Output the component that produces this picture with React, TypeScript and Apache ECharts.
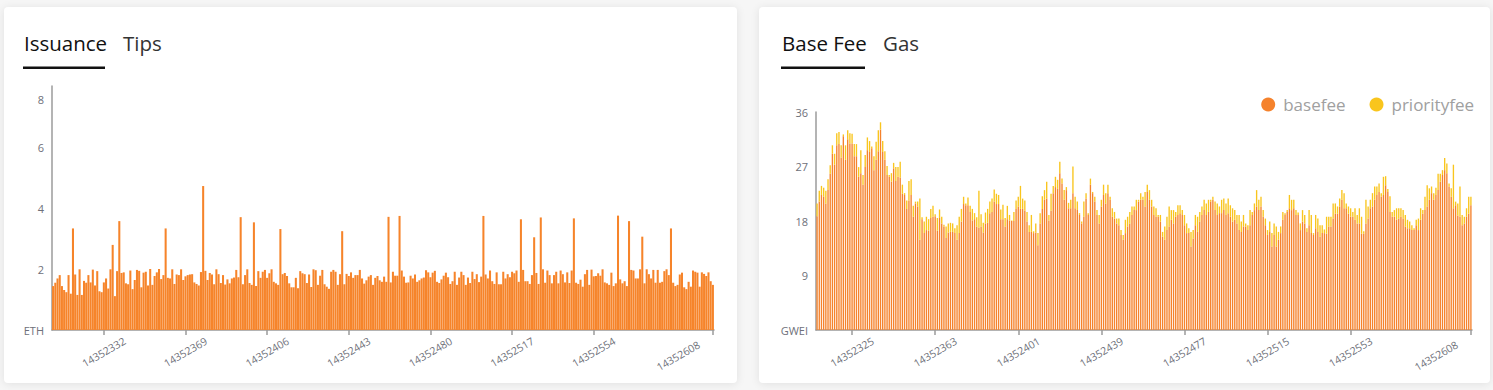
import React, { useEffect, useRef } from "react";
import * as echarts from "echarts";

const FONT = "'Open Sans', 'Noto Sans', sans-serif";

const START_BLOCK = 14352309;
const BLOCK_COUNT = 300;
const blocks: string[] = Array.from({ length: BLOCK_COUNT }, (_, i) => String(START_BLOCK + i));

const leftTabs = ["Issuance", "Tips"];
const rightTabs = ["Base Fee", "Gas"];
const seriesNames = ["basefee", "priorityfee"];

// ETH issued per block
const issuance: number[] = [
  1.44, 1.55, 1.69, 1.80, 1.44, 1.31, 1.24, 1.80, 1.19, 3.33,
  1.82, 1.15, 1.99, 1.15, 1.61, 1.55, 1.80, 1.56, 1.98, 1.46,
  1.93, 1.27, 1.24, 1.56, 1.69, 1.36, 1.99, 2.79, 1.11, 1.93,
  3.57, 1.87, 1.89, 1.53, 1.50, 1.95, 1.34, 1.64, 1.97, 1.94,
  1.40, 1.88, 1.91, 1.46, 2.00, 1.48, 1.77, 1.89, 2.00, 1.67,
  1.80, 3.33, 1.71, 1.69, 1.99, 1.51, 1.82, 1.80, 1.99, 1.64,
  1.76, 1.80, 1.82, 1.83, 1.56, 1.51, 1.46, 1.90, 4.72, 1.94,
  1.64, 1.87, 1.82, 1.50, 1.99, 1.83, 1.54, 1.80, 1.49, 1.66,
  1.53, 1.69, 1.72, 1.97, 1.73, 3.70, 1.50, 1.80, 1.99, 1.54,
  1.48, 3.53, 1.44, 1.93, 1.71, 1.91, 1.97, 1.71, 1.86, 1.99,
  1.58, 1.53, 1.48, 3.31, 1.83, 1.87, 1.77, 1.53, 1.40, 1.40,
  1.71, 1.37, 1.93, 1.86, 1.83, 1.54, 1.82, 1.41, 1.99, 1.96,
  1.48, 1.78, 1.97, 1.50, 1.42, 1.35, 1.91, 1.97, 1.91, 1.48,
  1.83, 3.24, 1.50, 1.84, 1.77, 1.89, 1.71, 1.80, 1.80, 1.97,
  1.69, 1.52, 1.63, 1.75, 1.80, 1.48, 1.71, 1.77, 1.63, 1.58,
  1.75, 1.58, 3.71, 1.56, 1.91, 1.78, 1.78, 3.74, 1.95, 1.75,
  1.55, 1.56, 1.78, 1.69, 1.82, 1.58, 1.63, 1.69, 1.72, 1.96,
  1.89, 1.73, 1.88, 1.94, 1.58, 1.54, 1.66, 1.78, 1.88, 1.73,
  1.51, 1.60, 1.91, 1.48, 1.72, 1.91, 1.80, 1.48, 1.72, 1.54,
  1.91, 1.67, 1.83, 1.57, 1.75, 3.74, 1.82, 1.69, 1.95, 1.60,
  1.51, 1.89, 1.50, 1.50, 1.91, 1.69, 1.83, 1.73, 1.91, 1.86,
  1.95, 1.58, 3.63, 1.97, 1.60, 1.60, 1.51, 1.80, 3.04, 1.87,
  1.51, 3.69, 1.99, 1.55, 1.95, 1.80, 1.53, 1.80, 1.91, 1.53,
  1.95, 1.83, 1.56, 1.89, 1.54, 1.95, 3.66, 1.55, 1.51, 1.65,
  1.42, 1.83, 1.97, 1.48, 1.98, 1.76, 1.77, 1.86, 1.78, 1.99,
  1.56, 1.53, 1.48, 1.88, 1.44, 1.53, 3.75, 1.66, 1.53, 1.60,
  1.44, 3.57, 1.97, 1.95, 1.69, 1.69, 1.99, 3.06, 1.53, 1.99,
  1.83, 1.69, 1.97, 1.55, 1.97, 1.55, 1.58, 1.93, 1.99, 1.80,
  3.33, 1.55, 1.44, 1.48, 1.82, 1.88, 1.40, 1.34, 1.58, 1.42,
  1.95, 1.91, 1.88, 1.42, 1.89, 1.84, 1.77, 1.89, 1.60, 1.48,
];

// GWEI
const basefee: number[] = [
  18.8, 21.2, 22.3, 22.0, 20.9, 23.1, 25.8, 29.1, 27.3, 30.5,
  30.7, 28.5, 32.0, 28.1, 31.5, 30.8, 30.8, 28.7, 28.7, 25.3,
  25.9, 24.0, 26.9, 29.7, 29.4, 30.0, 26.4, 28.1, 29.5, 33.1,
  29.4, 28.1, 25.6, 25.3, 24.5, 26.7, 24.6, 25.3, 25.2, 22.5,
  22.3, 20.0, 21.4, 22.3, 18.7, 20.9, 20.4, 14.9, 18.3, 16.0,
  16.5, 16.4, 18.5, 18.7, 18.8, 16.4, 18.5, 17.6, 17.1, 15.2,
  16.1, 16.2, 16.2, 16.0, 14.9, 16.0, 17.9, 20.8, 20.6, 20.6,
  19.5, 18.1, 18.3, 17.1, 16.9, 17.1, 16.1, 17.6, 17.7, 19.3,
  19.5, 21.2, 20.8, 20.8, 18.3, 18.3, 17.1, 18.3, 18.1, 18.0,
  18.0, 20.0, 20.4, 20.0, 20.0, 19.7, 17.9, 16.2, 16.2, 16.0,
  16.1, 14.0, 17.6, 20.0, 21.5, 21.7, 18.1, 19.7, 22.6, 23.6,
  23.3, 25.9, 24.2, 21.5, 23.1, 20.1, 20.1, 22.6, 20.1, 19.8,
  19.0, 17.6, 18.7, 21.7, 19.0, 24.0, 22.6, 21.2, 19.0, 17.6,
  20.4, 22.3, 20.9, 22.6, 21.5, 18.7, 18.4, 17.6, 17.3, 15.7,
  14.9, 16.0, 17.1, 17.6, 19.0, 19.8, 19.8, 21.2, 21.5, 21.5,
  20.4, 22.8, 21.5, 20.4, 19.0, 18.7, 18.7, 17.9, 15.4, 14.9,
  16.5, 17.1, 18.2, 17.6, 18.7, 19.0, 19.3, 19.0, 17.3, 16.0,
  16.0, 13.8, 15.1, 17.3, 16.2, 17.9, 19.0, 19.8, 19.0, 19.5,
  21.2, 21.5, 19.8, 19.0, 19.3, 19.3, 19.8, 19.0, 19.3, 18.7,
  17.9, 18.2, 17.6, 16.5, 16.2, 17.1, 17.1, 16.5, 17.3, 19.0,
  19.8, 20.4, 19.8, 20.4, 18.7, 17.3, 15.7, 16.2, 13.8, 15.7,
  13.8, 14.9, 16.0, 18.2, 19.0, 19.5, 20.1, 19.8, 20.1, 19.0,
  19.0, 16.5, 17.9, 17.6, 16.2, 17.3, 16.0, 15.7, 16.8, 16.2,
  15.4, 16.0, 16.0, 15.9, 17.1, 17.1, 18.4, 19.2, 19.2, 20.4,
  21.5, 20.1, 20.1, 19.2, 18.7, 18.7, 18.2, 17.6, 17.6, 15.9,
  15.9, 17.6, 18.4, 20.1, 20.4, 21.5, 22.3, 22.8, 22.0, 22.3,
  23.9, 22.8, 19.5, 18.7, 18.7, 18.2, 18.4, 18.7, 18.4, 17.1,
  16.8, 16.8, 16.5, 16.5, 17.3, 16.5, 18.2, 19.2, 19.8, 20.4,
  21.5, 22.6, 21.5, 22.3, 23.1, 24.5, 25.6, 26.4, 25.9, 23.7,
  22.0, 20.1, 20.6, 18.9, 18.7, 17.3, 17.6, 18.7, 19.2, 20.6,
];

const priorityfee: number[] = [
  2.1, 1.8, 1.5, 1.5, 2.1, 1.8, 1.4, 1.4, 1.8, 2.0,
  2.0, 2.0, 0.3, 2.4, 1.5, 1.7, 1.6, 2.0, 2.0, 1.6,
  3.8, 1.6, 2.0, 2.1, 1.8, 0.3, 2.3, 3.0, 3.5, 1.2,
  1.8, 1.4, 1.5, 0.3, 1.4, 0.9, 2.3, 1.6, 2.6, 1.5,
  0.3, 1.4, 3.2, 2.6, 1.8, 0.3, 0.8, 6.8, 0.3, 1.9,
  2.2, 1.9, 1.5, 1.8, 0.3, 2.1, 1.4, 1.1, 0.3, 1.9,
  1.5, 1.5, 1.4, 0.8, 2.4, 2.7, 2.1, 1.2, 0.3, 1.3,
  1.0, 1.9, 1.0, 1.5, 6.1, 2.0, 1.6, 1.8, 2.3, 1.9,
  2.2, 2.0, 1.7, 1.5, 1.6, 2.4, 1.4, 2.2, 0.9, 0.1,
  1.5, 1.4, 1.6, 3.8, 1.7, 1.7, 1.6, 1.1, 2.8, 0.3,
  1.5, 2.0, 1.7, 2.1, 1.6, 2.8, 0.9, 2.8, 1.2, 1.7,
  1.5, 1.9, 0.8, 1.6, 0.5, 0.9, 1.4, 4.4, 1.9, 1.4,
  0.3, 0.3, 2.5, 0.9, 0.3, 1.0, 0.2, 0.8, 0.8, 1.4,
  1.1, 1.7, 1.7, 1.4, 0.5, 1.4, 1.1, 0.8, 1.1, 0.8,
  0.8, 2.2, 1.6, 1.9, 1.4, 0.6, 1.7, 0.3, 1.1, 0.5,
  2.4, 1.2, 1.6, 1.1, 1.4, 1.4, 0.3, 1.1, 0.8, 2.2,
  2.2, 3.3, 1.6, 2.2, 0.8, 1.6, 1.3, 0.8, 1.7, 1.6,
  0.8, 2.4, 1.4, 1.7, 2.5, 1.6, 1.4, 1.7, 1.9, 2.0,
  0.3, 0.5, 1.4, 1.9, 1.1, 2.2, 1.9, 1.9, 2.4, 1.9,
  2.2, 1.6, 1.4, 2.5, 1.7, 1.9, 0.5, 0.8, 2.5, 0.5,
  1.1, 2.7, 1.7, 1.6, 1.1, 1.1, 0.8, 1.7, 2.2, 1.9,
  3.3, 1.3, 1.1, 1.3, 0.3, 0.3, 2.2, 1.7, 1.4, 0.8,
  0.4, 1.1, 1.9, 1.4, 0.6, 2.5, 3.0, 0.3, 2.2, 2.2,
  1.9, 1.3, 0.6, 2.8, 1.6, 1.6, 2.5, 1.7, 1.2, 1.3,
  1.6, 2.5, 0.8, 1.2, 1.4, 0.8, 1.9, 1.4, 2.5, 2.8,
  0.4, 3.9, 2.0, 1.4, 2.2, 2.2, 1.4, 1.4, 0.6, 3.0,
  1.5, 0.5, 2.6, 0.8, 1.1, 1.9, 1.7, 1.4, 1.4, 1.9,
  1.4, 1.1, 0.8, 0.3, 0.9, 1.9, 1.9, 0.6, 2.2, 3.5,
  1.9, 1.1, 1.1, 1.2, 2.7, 1.3, 0.8, 2.0, 1.6, 0.5,
  1.4, 7.2, 0.6, 2.0, 5.0, 1.7, 1.1, 1.4, 2.8, 1.4,
];

// which category indices carry a label / tick
const leftLabelAt = (i: number) => i === BLOCK_COUNT - 1 || (i >= 23 && (i - 23) % 37 === 0 && i < 280);
const rightLabelAt = (i: number) => i === BLOCK_COUNT - 1 || (i >= 16 && (i - 16) % 38 === 0 && i < 280);

const AXIS_GRAY = "#9b9b9b";
const LABEL_GRAY = "#6E7079";

function xAxisFor(gridIndex: number, pick: (i: number) => boolean) {
  return {
    type: "category",
    gridIndex,
    data: blocks,
    axisLine: { lineStyle: { color: AXIS_GRAY, width: 1.5 } },
    axisTick: { show: true, alignWithLabel: true, interval: (i: number) => pick(i), length: 5, lineStyle: { color: AXIS_GRAY, width: 1.5 } },
    axisLabel: {
      interval: (i: number) => pick(i),
      rotate: 30,
      align: "center",
      verticalAlign: "middle",
      margin: 22,
      fontSize: 10.5,
      color: LABEL_GRAY,
      fontFamily: FONT,
      formatter: (v: string, i: number) => (i === BLOCK_COUNT - 1 ? "{last|" + v + "}" : v),
      rich: {
        last: { padding: [0, 64, 28, 0], fontSize: 10.5, color: LABEL_GRAY, fontFamily: FONT },
      },
    },
    splitLine: { show: false },
  };
}

export default function App() {
  const ref = useRef<HTMLDivElement>(null);

  useEffect(() => {
    if (!ref.current) return;
    const chart = echarts.init(ref.current, undefined, { renderer: "svg" });
    const tabText = (text: string, x: number, active: boolean) => ({
      type: "text",
      x,
      y: 43,
      style: {
        text,
        fontSize: 20.5,
        fontFamily: FONT,
        fill: active ? "#111111" : "#333333",
        verticalAlign: "middle",
      },
      z: 10,
    });
    chart.setOption({
      animation: false,
      textStyle: { fontFamily: FONT },
      graphic: [
        tabText(leftTabs[0], 24, true),
        tabText(leftTabs[1], 123, false),
        { type: "rect", shape: { x: 23, y: 66.5, width: 82, height: 2.5 }, style: { fill: "#111" }, z: 10 },
        tabText(rightTabs[0], 782, true),
        tabText(rightTabs[1], 883, false),
        { type: "rect", shape: { x: 781, y: 66.5, width: 84, height: 2.5 }, style: { fill: "#111" }, z: 10 },
      ],
      legend: {
        data: seriesNames,
        icon: "circle",
        itemWidth: 14,
        itemHeight: 14,
        itemGap: 24,
        right: 14,
        top: 91,
        textStyle: { color: "#a0a0a0", fontSize: 17, fontFamily: FONT, padding: [0, 0, 0, 3] },
      },
      grid: [
        { left: 52, top: 86, width: 662, height: 244, containLabel: false },
        { left: 816, top: 112, width: 656, height: 218, containLabel: false },
      ],
      xAxis: [xAxisFor(0, leftLabelAt), xAxisFor(1, rightLabelAt)],
      yAxis: [
        {
          type: "value",
          gridIndex: 0,
          min: 0,
          max: 8,
          interval: 2,
          splitLine: { show: false },
          axisTick: { show: false },
          axisLine: { show: true, lineStyle: { color: AXIS_GRAY, width: 1.5 } },
          axisLabel: {
            margin: 8,
            fontSize: 11,
            color: LABEL_GRAY,
            formatter: (v: number) => (v === 0 ? "ETH" : v === 8 ? "{t|8}" : String(v)),
            rich: { t: { padding: [26, 0, 0, 0], fontSize: 11, color: LABEL_GRAY } },
          },
        },
        {
          type: "value",
          gridIndex: 1,
          min: 0,
          max: 36,
          interval: 9,
          splitLine: { show: false },
          axisTick: { show: false },
          axisLine: { show: true, lineStyle: { color: AXIS_GRAY, width: 1.5 } },
          axisLabel: {
            margin: 8,
            fontSize: 11,
            color: LABEL_GRAY,
            formatter: (v: number) => (v === 0 ? "GWEI" : String(v)),
          },
        },
      ],
      series: [
        {
          name: "issuance",
          type: "bar",
          xAxisIndex: 0,
          yAxisIndex: 0,
          data: issuance,
          barCategoryGap: "7%",
          itemStyle: { color: "#f6842a" },
        },
        {
          name: seriesNames[0],
          type: "bar",
          stack: "fee",
          xAxisIndex: 1,
          yAxisIndex: 1,
          data: basefee,
          barWidth: "62%",
          itemStyle: { color: "#f5822c" },
        },
        {
          name: seriesNames[1],
          type: "bar",
          stack: "fee",
          xAxisIndex: 1,
          yAxisIndex: 1,
          data: priorityfee,
          barWidth: "62%",
          itemStyle: { color: "#f9c51d" },
        },
      ],
    });
    return () => chart.dispose();
  }, []);

  const card = (left: number, width: number): React.CSSProperties => ({
    position: "absolute",
    left,
    top: 7,
    width,
    height: 376,
    background: "#ffffff",
    borderRadius: 4,
    boxShadow: "0 1px 10px rgba(0,0,0,0.09)",
  });

  return (
    <div style={{ position: "fixed", left: 0, top: 0, width: 1493, height: 390, background: "#f6f6f6", overflow: "hidden" }}>
      <div style={card(4, 733)} />
      <div style={card(759, 731)} />
      <div ref={ref} style={{ position: "absolute", left: 0, top: 0, width: 1493, height: 390 }} />
    </div>
  );
}
